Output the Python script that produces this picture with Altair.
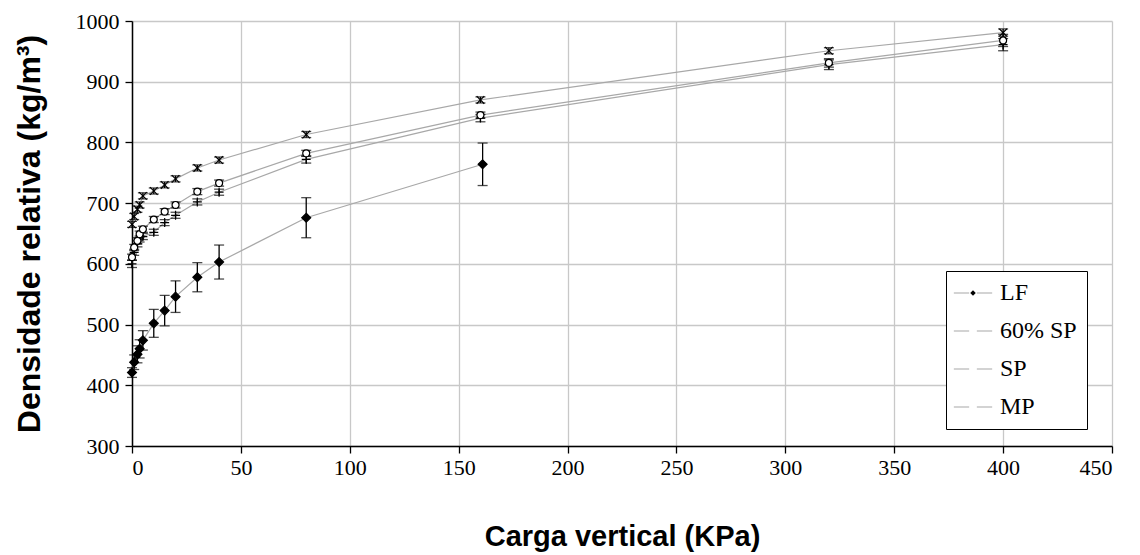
import altair as alt
import pandas as pd

series_names = ["LF", "60% SP", "SP", "MP"]

lf_x = [0, 1, 2.5, 3.5, 5, 10, 15, 20, 30, 40, 80, 161]
lf_y = [421, 438, 451, 460, 474, 502, 523, 546, 578, 603, 676, 764]
lf_e = [8, 12, 14, 15, 16, 23, 25, 26, 24, 28, 33, 35]

sp60_x = [0, 1, 2.5, 3.5, 5, 10, 15, 20, 30, 40, 80, 160, 320, 400]
sp60_y = [600, 619, 633, 641, 645, 652, 668, 680, 702, 718, 772, 840, 928, 961]
sp60_e = [6, 5, 5, 5, 5, 5, 5, 5, 5, 5, 6, 6, 8, 10]

sp_x = [0, 1, 2.5, 3.5, 5, 10, 15, 20, 30, 40, 80, 160, 320, 400]
sp_y = [611, 627, 638, 649, 657, 673, 686, 697, 719, 733, 782, 845, 931, 968]
sp_e = [5, 5, 5, 5, 5, 5, 5, 5, 5, 5, 5, 5, 7, 10]

mp_x = [0, 1, 2.5, 3.5, 5, 10, 15, 20, 30, 40, 80, 160, 320, 400]
mp_y = [665, 678, 690, 697, 712, 720, 730, 740, 758, 771, 813, 870, 951, 981]
mp_e = [5, 5, 5, 5, 5, 5, 5, 5, 5, 5, 5, 5, 5, 6]

x_ticks = list(range(0, 451, 50))
y_ticks = list(range(300, 1001, 100))

line_names = [n + " " for n in series_names]

rows = []
for name, xs, ys, es in [("LF", lf_x, lf_y, lf_e), ("60% SP", sp60_x, sp60_y, sp60_e),
                         ("SP", sp_x, sp_y, sp_e), ("MP", mp_x, mp_y, mp_e)]:
    for i, (x, y, e) in enumerate(zip(xs, ys, es)):
        rows.append({"serie": name, "linea": name + " ", "carga": x, "dens": y,
                     "lo": y - e, "hi": y + e, "ord": i})
df = pd.DataFrame(rows)

shape_paths = [
    "M0,-1L1,0L0,1L-1,0Z",
    "M-1,0L1,0M0,-1L0,1",
    "M0.78,0A0.78,0.78,0,1,1,-0.78,0A0.78,0.78,0,1,1,0.78,0Z",
    "M-0.85,-0.85L0.85,0.85M-0.85,0.85L0.85,-0.85",
]

SERIF = "Times New Roman, Liberation Serif, serif"
SANS = "Arial, Liberation Sans, sans-serif"

LEG_X, LEG_Y = 814, 250
leg_common = dict(orient="none", legendX=LEG_X, legendY=LEG_Y, padding=10,
                  rowPadding=14, labelFontSize=24, labelFont=SERIF,
                  symbolSize=30, symbolOffset=5, labelOffset=15)
shape_leg = dict(labelColor="black", strokeColor="black", fillColor="white",
                 symbolStrokeColor="black", symbolStrokeWidth=1.2, zindex=1, **leg_common)
line_leg = dict(symbolType="M-7,0L-1.4,0M1.4,0L7,0", symbolStrokeWidth=1.2,
                symbolStrokeColor="#a8a8a8", labelColor="transparent", zindex=2,
                **leg_common)

xscale = alt.Scale(domain=[0, 450], nice=False, zero=False)
yscale = alt.Scale(domain=[300, 1000], nice=False, zero=False)

xenc = alt.X("carga:Q", scale=xscale,
             axis=alt.Axis(title="Carga vertical (KPa)", values=x_ticks, format="d",
                           titleFontSize=29))
yenc = alt.Y("dens:Q", scale=yscale,
             axis=alt.Axis(title="Densidade relativa (kg/m³)", values=y_ticks, format="d",
                           titleFontSize=32))

base = alt.Chart(df)

lines = base.mark_line(strokeWidth=1.2).encode(
    x=xenc, y=yenc,
    detail="serie:N",
    order="ord:Q",
    color=alt.Color("linea:N", title=None,
                    scale=alt.Scale(domain=line_names, range=["#a8a8a8"] * 4),
                    legend=alt.Legend(**line_leg)),
)

rules = base.mark_rule(color="black", strokeWidth=1.3).encode(
    x="carga:Q", y="lo:Q", y2="hi:Q")
caps_lo = base.mark_tick(color="black", orient="horizontal", size=10, thickness=1.3).encode(
    x="carga:Q", y="lo:Q")
caps_hi = base.mark_tick(color="black", orient="horizontal", size=10, thickness=1.3).encode(
    x="carga:Q", y="hi:Q")

points = base.mark_point(strokeWidth=1.2, opacity=1, size=80).encode(
    x="carga:Q", y="dens:Q",
    shape=alt.Shape("serie:N", title=None,
                    scale=alt.Scale(domain=series_names, range=shape_paths),
                    legend=alt.Legend(**shape_leg)),
    fill=alt.Fill("serie:N", title=None,
                  scale=alt.Scale(domain=series_names,
                                  range=["black", "transparent", "white", "transparent"]),
                  legend=alt.Legend(**shape_leg)),
    stroke=alt.value("black"),
)

chart = alt.layer(lines, rules, caps_lo, caps_hi, points).properties(
    width=980, height=425,
    autosize=alt.AutoSizeParams(type="none"),
    padding={"left": 124, "top": 13, "right": 20, "bottom": 107},
).configure_view(stroke=None).configure_axis(
    grid=True, gridColor="#c8c8c8", gridWidth=1.3,
    domainColor="black", domainWidth=1.5,
    tickColor="black", tickSize=7, tickWidth=1.3,
    labelFont=SERIF, labelFontSize=22, labelColor="black",
    titleFont=SANS, titleFontWeight="bold", titleColor="black",
).configure_axisX(labelPadding=4, titlePadding=44).configure_axisY(labelPadding=6, titlePadding=29)

chart.save("out.html", embed_options={"renderer": "svg", "actions": False})
